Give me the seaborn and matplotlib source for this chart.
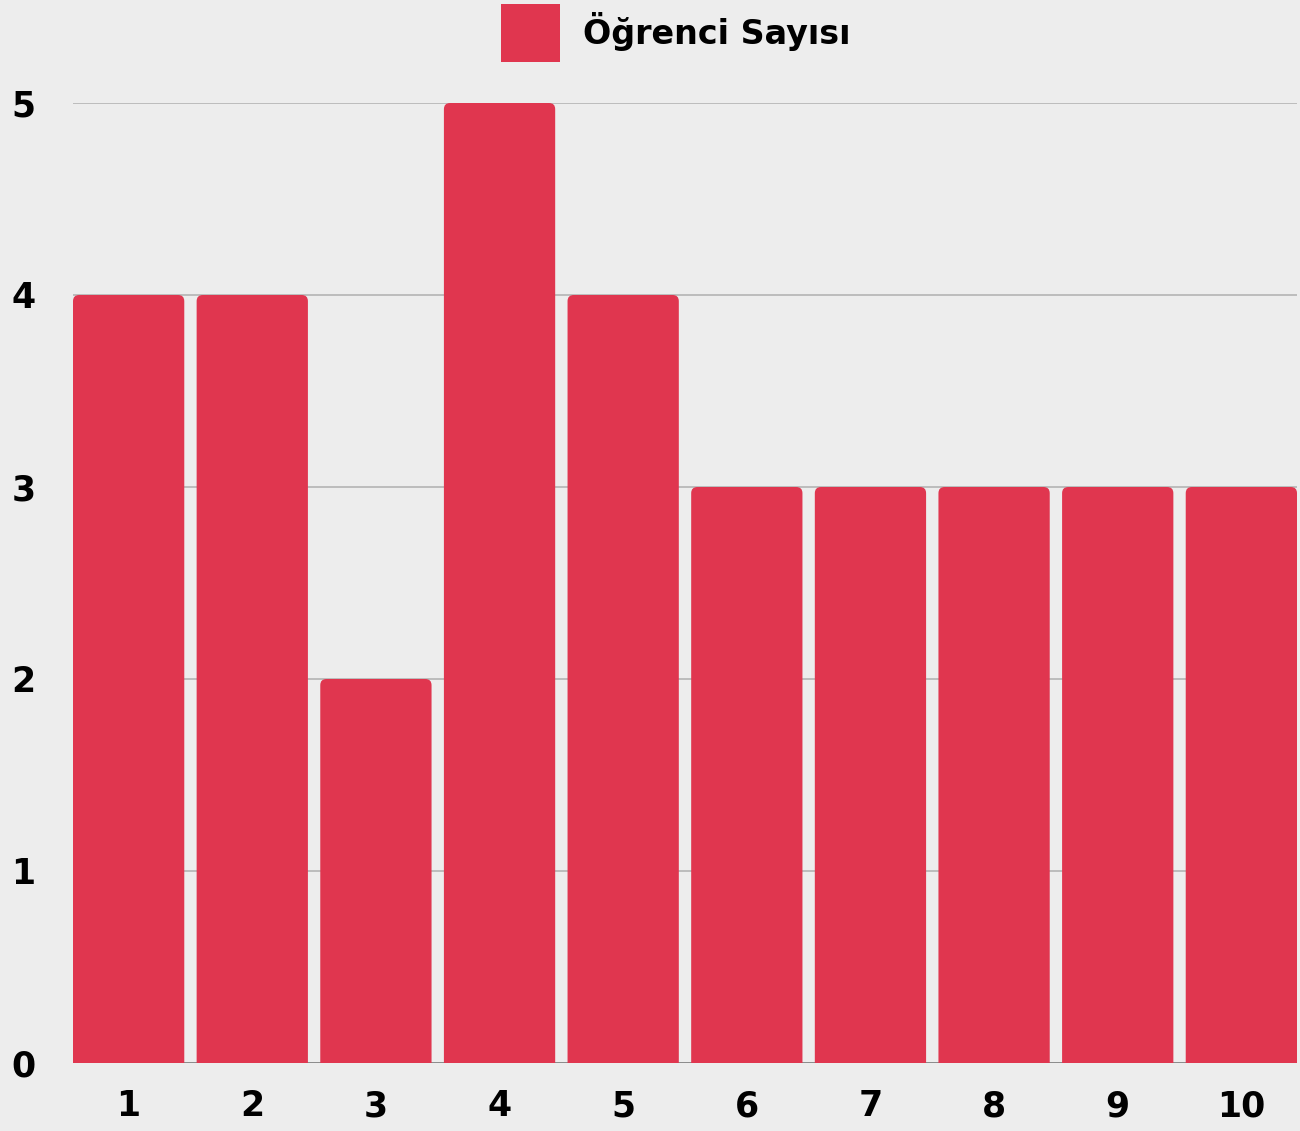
import matplotlib
matplotlib.use('Agg')
import matplotlib.pyplot as plt
import seaborn as sns
import pandas as pd
from matplotlib.patches import FancyBboxPatch, Patch

# data
groups = ['1', '2', '3', '4', '5', '6', '7', '8', '9', '10']
counts = [4, 4, 2, 5, 4, 3, 3, 3, 3, 3]
series_name = 'Öğrenci Sayısı'
bar_color = '#E0364F'

sns.set_style('white')
plt.rcParams['font.family'] = ['DejaVu Sans']

fig = plt.figure(figsize=(13, 11.31), dpi=100)
fig.patch.set_facecolor('#EDEDED')
ax = fig.add_axes([73 / 1300, 1 - 1063 / 1131, (1297 - 73) / 1300, (1063 - 103) / 1131])
ax.set_facecolor('#EDEDED')

df = pd.DataFrame({'Grup': groups, series_name: counts})
sns.barplot(data=df, x='Grup', y=series_name, color=bar_color, saturation=1,
            width=0.9, ax=ax)

# swap the plain rectangles for ones with rounded top corners
for p in list(ax.patches):
    x, w, h = p.get_x(), p.get_width(), p.get_height()
    p.remove()
    ax.add_patch(FancyBboxPatch((x, -0.1), w, h + 0.1,
                                boxstyle='round,pad=0,rounding_size=0.05',
                                mutation_aspect=0.644, facecolor=bar_color,
                                edgecolor='none', zorder=3))

ax.set_xlim(-0.45, 9.45)
ax.set_ylim(0, 5)
ax.set_yticks([0, 1, 2, 3, 4, 5])
ax.yaxis.grid(True, color='#B8B8B8', linewidth=1.3)
ax.axhline(0, color='#888888', linewidth=2, zorder=1)
ax.set_axisbelow(True)
sns.despine(ax=ax, left=True, bottom=True)
ax.set_xlabel('')
ax.set_ylabel('')
ax.tick_params(axis='both', length=0, labelsize=25)
ax.tick_params(axis='y', pad=27)
ax.tick_params(axis='x', pad=19)
for lbl in ax.get_xticklabels() + ax.get_yticklabels():
    lbl.set_fontweight('bold')
    lbl.set_color('black')

handle = Patch(facecolor=bar_color, edgecolor='none')
fig.legend([handle], [series_name], loc='upper center',
           bbox_to_anchor=(676 / 1300, 1.002), frameon=False,
           prop={'size': 24, 'weight': 'bold'}, labelcolor='black',
           handlelength=1.75, handleheight=2.3, handletextpad=0.7,
           borderpad=0.1, borderaxespad=0.1)

fig.savefig('out.png', dpi=100, facecolor=fig.get_facecolor())
